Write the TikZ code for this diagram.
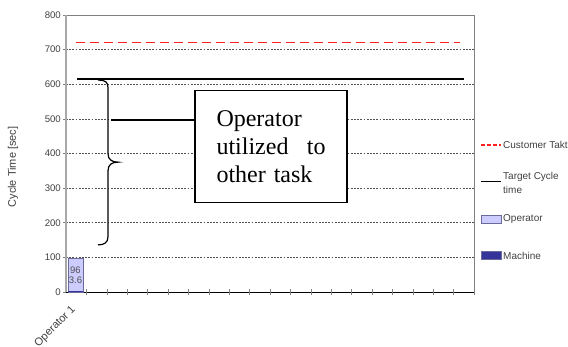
\documentclass[tikz,border=0pt]{standalone}
\usepackage{fontspec}
\setmainfont{Liberation Sans}
\newfontfamily\boxfont{Liberation Serif}
\usetikzlibrary{positioning}
\definecolor{TaktRed}{HTML}{FF2020}
\definecolor{OperatorFill}{HTML}{CCCCFF}
\definecolor{OperatorEdge}{HTML}{6A6A9A}
\definecolor{MachineFill}{HTML}{333399}
\definecolor{AxisGray}{HTML}{A8A8A8}
\definecolor{FrameGray}{HTML}{808080}
\definecolor{GridGray}{HTML}{505050}
\definecolor{LabelGray}{HTML}{404040}
\tikzset{
  ticklabel/.style={font=\fontsize{9.6}{11}\selectfont, text=LabelGray, anchor=east, inner sep=0pt},
  gridline/.style={GridGray, line width=0.6pt, dash pattern=on 1.8pt off 1.4pt},
  legendtext/.style={font=\fontsize{10}{14}\selectfont, text=LabelGray, anchor=west, align=left, inner sep=0pt},
}

\begin{document}
\begin{tikzpicture}[x=1pt, y=1pt]
  \useasboundingbox (0,0) rectangle (568,347);

  % Plot area: x in pt from the left axis, y in seconds
  \begin{scope}[shift={(66,55)}, y=0.34625pt]
    % Grid lines, ticks and y labels
    \foreach \v in {100,200,...,700}
      \draw[gridline] (0,\v) -- (408,\v);
    \foreach \v in {0,100,...,800} {
      \draw[FrameGray, line width=0.6pt] (-3,\v) -- (0,\v);
      \node[ticklabel] at (-5,\v) {\v};
    }

    % Frame
    \draw[FrameGray, line width=0.7pt] (0,800) -- (408,800) -- (408,0);
    \draw[AxisGray, line width=1.5pt] (0,0) -- (0,800);
    \draw[black, line width=0.7pt] (0,0) -- (408,0);
    \foreach \k in {1,...,20}
      \draw[FrameGray, line width=0.6pt] (\k*20.4,-9) -- (\k*20.4,9);

    % Stacked bar for Operator 1
    \filldraw[fill=OperatorFill, draw=OperatorEdge, line width=0.6pt] (2,0) rectangle (17,96);
    \fill[MachineFill] (2,0) rectangle (17,3.6);
    \node[font=\fontsize{9.5}{9}\selectfont, text=GridGray, inner sep=0pt] (opval) at (9.5,64) {96};
    \node[font=\fontsize{9.5}{9}\selectfont, text=GridGray, inner sep=0pt] (mcval) at (9.5,33) {3.6};

    % Takt and target lines
    \draw[TaktRed, line width=1.4pt, dash pattern=on 9pt off 5pt] (10,720) -- (394,720);
    \draw[black, line width=1.3pt] (11,615) -- (398,615);

    % Brace
    \draw[black, line width=1.2pt] (32,612) .. controls (40,612) and (42,605) .. (42,590)
      -- (42,400) .. controls (42,382) and (46,375) .. (52,375)
      .. controls (46,375) and (42,368) .. (42,350)
      -- (42,160) .. controls (42,142) and (38,136) .. (32,136);

    % Note box
    \node[draw, fill=white, line width=1.2pt, minimum width=152pt, minimum height=112pt, text width=109pt,
      align=left, font=\boxfont\fontsize{24}{28}\selectfont, inner sep=0pt] (note) at (205,420)
      {Operator\\utilized\hfill to\\other task};
    \coordinate (braceArm) at (45,497);
    \draw[black, line width=1.2pt] (braceArm) -- (braceArm -| note.west);
  \end{scope}

  % Axis titles
  \node[font=\fontsize{11}{12}\selectfont, text=LabelGray, rotate=90] (ytitle) at (13,180) {Cycle Time [sec]};
  \node[font=\fontsize{11}{12}\selectfont, text=LabelGray, rotate=45, anchor=east, inner sep=0pt] (xcat) at (74,39) {Operator 1};

  % Legend
  \draw[TaktRed, line width=1.3pt, dash pattern=on 3.5pt off 2.5pt] (481,202) -- (501,202);
  \node[legendtext] (taktlbl) at (503,202) {Customer Takt};
  \draw[black, line width=1pt] (481,165) -- (501,165);
  \node[legendtext] (targetlbl) at (503,164) {Target Cycle\\time};
  \filldraw[fill=OperatorFill, draw=OperatorEdge, line width=0.6pt] (481,124) rectangle (501,132);
  \node[legendtext] (oplbl) at (503,128) {Operator};
  \filldraw[fill=MachineFill, draw=OperatorEdge, line width=0.6pt] (481,88) rectangle (501,96);
  \node[legendtext] (mclbl) at (503,91) {Machine};
\end{tikzpicture}
\end{document}
